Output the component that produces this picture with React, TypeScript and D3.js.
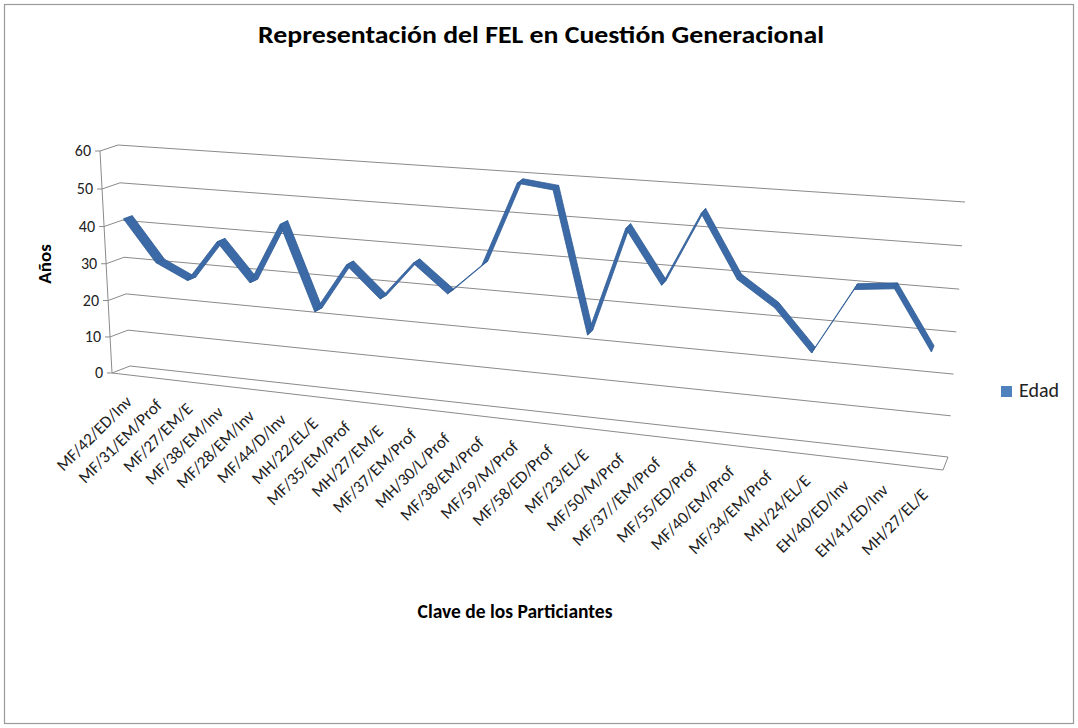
import * as d3 from "d3";

const categories = [
  "MF/42/ED/Inv", "MF/31/EM/Prof", "MF/27/EM/E", "MF/38/EM/Inv", "MF/28/EM/Inv",
  "MF/44/D/Inv", "MH/22/EL/E", "MF/35/EM/Prof", "MH/27/EM/E", "MF/37/EM/Prof",
  "MH/30/L/Prof", "MF/38/EM/Prof", "MF/59/M/Prof", "MF/58/ED/Prof", "MF/23/EL/E",
  "MF/50/M/Prof", "MF/37//EM/Prof", "MF/55/ED/Prof", "MF/40/EM/Prof", "MF/34/EM/Prof",
  "MH/24/EL/E", "EH/40/ED/Inv", "EH/41/ED/Inv", "MH/27/EL/E",
];
const edad = [42, 31, 27, 38, 28, 44, 22, 35, 27, 37, 30, 38, 59, 58, 23, 50, 37, 55, 40, 34, 24, 40, 41, 27];
const yTicks = [0, 10, 20, 30, 40, 50, 60];

const W = 1078;
const H = 728;
const FONT = "Carlito, Calibri, Lato, sans-serif";

type Pt = [number, number];

// square (u,v) -> quad, perspective mapping
function quadMap(p00: Pt, p10: Pt, p11: Pt, p01: Pt) {
  const [x0, y0] = p00, [x1, y1] = p10, [x2, y2] = p11, [x3, y3] = p01;
  const dx1 = x1 - x2, dx2 = x3 - x2, dx3 = x0 - x1 + x2 - x3;
  const dy1 = y1 - y2, dy2 = y3 - y2, dy3 = y0 - y1 + y2 - y3;
  const den = dx1 * dy2 - dx2 * dy1;
  const g = (dx3 * dy2 - dx2 * dy3) / den;
  const h = (dx1 * dy3 - dx3 * dy1) / den;
  const a = x1 - x0 + g * x1, b = x3 - x0 + h * x3, c = x0;
  const d = y1 - y0 + g * y1, e = y3 - y0 + h * y3, f = y0;
  return (u: number, v: number): Pt => {
    const w = g * u + h * v + 1;
    return [(a * u + b * v + c) / w, (d * u + e * v + f) / w];
  };
}

// back wall and front plane of the 3d box
const back = quadMap([130, 366], [948, 457], [965, 202], [118, 145]);
const front = quadMap([112, 373], [943, 470], [960, 214], [100, 151]);

const project = (u: number, v: number, w: number): Pt => {
  const b = back(u, v);
  const f = front(u, v);
  return [b[0] + (f[0] - b[0]) * w, b[1] + (f[1] - b[1]) * w];
};

const pts = (arr: Pt[]) => arr.map((p) => p.join(",")).join(" ");

export default function App() {
  const xScale = d3.scaleBand<string>().domain(categories).range([0, 1]);
  const yScale = d3.scaleLinear().domain([0, 60]).range([0, 1]);
  const ux = (c: string) => (xScale(c) as number) + xScale.bandwidth() / 2;

  const wB = 0.25;
  const wF = 0.75;
  const ribbon = d3.pairs(categories.map((c, i) => [ux(c), yScale(edad[i])]));

  const gridColor = "#8a8a8a";

  return (
    <svg width={W} height={H} style={{ position: "absolute", left: 0, top: 0, background: "#fff" }}>
      <rect x={4.5} y={4.5} width={1069} height={719} fill="#fff" stroke="#9a9a9a" strokeWidth={1.2} />

      <text x={541} y={43} textAnchor="middle" fontFamily={FONT} fontWeight={700} fontSize={24}
        textLength={566} lengthAdjust="spacingAndGlyphs">
        Representación del FEL en Cuestión Generacional
      </text>

      {/* gridlines */}
      {yTicks.map((t) => {
        const v = yScale(t);
        const f0 = front(0, v);
        return (
          <g key={t}>
            <polyline points={pts([f0, back(0, v), back(1, v)])} fill="none" stroke={gridColor} strokeWidth={1} />
            <line x1={f0[0] - 5} x2={f0[0]} y1={f0[1]} y2={f0[1]} stroke={gridColor} />
            <text x={f0[0] - 9} y={f0[1] + 5} textAnchor="end" fontFamily={FONT} fontSize={16} fill="#222">
              {t}
            </text>
          </g>
        );
      })}

      {/* floor and front axis */}
      <polyline points={pts([front(0, 1), front(0, 0), front(1, 0), back(1, 0)])} fill="none" stroke={gridColor} strokeWidth={1} />

      {/* 3d ribbon */}
      <g>
        {ribbon.map(([a, b], i) => (
          <polygon
            key={i}
            points={pts([project(a[0], a[1], wB), project(b[0], b[1], wB), project(b[0], b[1], wF), project(a[0], a[1], wF)])}
            fill="#3c6aa7"
            stroke="#305d96"
            strokeWidth={0.8}
            strokeLinejoin="round"
          />
        ))}
      </g>

      {/* category labels */}
      {categories.map((c) => {
        const p = front(ux(c), 0);
        return (
          <text key={c} transform={`translate(${p[0] + 6},${p[1] + 28}) rotate(-45)`} textAnchor="end"
            fontFamily={FONT} fontSize={17} fill="#222">
            {c}
          </text>
        );
      })}

      <text transform="translate(51,264) rotate(-90)" textAnchor="middle" fontFamily={FONT} fontWeight={700} fontSize={19}>
        Años
      </text>
      <text x={515} y={618} textAnchor="middle" fontFamily={FONT} fontWeight={700} fontSize={19.5}>
        Clave de los Particiantes
      </text>

      <rect x={1001} y={386} width={11} height={11} fill="#4f81bd" />
      <text x={1019} y={397} fontFamily={FONT} fontSize={20} fill="#222">Edad</text>
    </svg>
  );
}
